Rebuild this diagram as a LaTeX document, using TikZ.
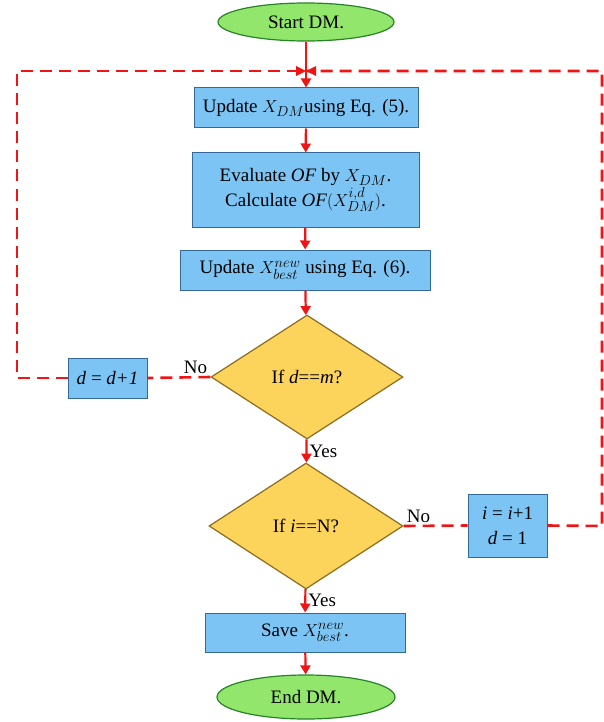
\documentclass[tikz,border=0pt]{standalone}
\usepackage{fontspec}
\setmainfont{Liberation Serif}
\usetikzlibrary{shapes.geometric,arrows.meta}

\definecolor{boxblue}{RGB}{124,196,244}
\definecolor{boxedge}{RGB}{52,104,150}
\definecolor{termgreen}{RGB}{146,230,108}
\definecolor{termedge}{RGB}{40,130,40}
\definecolor{askgold}{RGB}{252,212,92}
\definecolor{askedge}{RGB}{140,108,30}
\definecolor{flowred}{RGB}{240,20,20}

\begin{document}
\begin{tikzpicture}[x=1pt,y=-1pt,
  every node/.style={font=\fontsize{19}{25}\selectfont},
  term/.style={ellipse, draw=termedge, fill=termgreen, line width=1.2pt, inner sep=0pt},
  box/.style={rectangle, draw=boxedge, fill=boxblue, line width=1pt, inner sep=0pt, align=center},
  ask/.style={diamond, draw=askedge, fill=askgold, line width=1.2pt, inner sep=0pt},
  flow/.style={draw=flowred, line width=2.2pt, -{Triangle[length=9pt,width=10pt]}},
  back/.style={draw=flowred, line width=2.6pt, dash pattern=on 12pt off 7pt},
  tag/.style={inner sep=2pt}]
\useasboundingbox (0,0) rectangle (603,722);

\node[term, minimum width=176, minimum height=38] (start) at (306,22) {Start DM.};
\node[box, minimum width=224, minimum height=40] (upd) at (306,108) {Update $X_{DM}$using Eq. (5).};
\node[box, minimum width=227, minimum height=74] (eval) at (305.5,190)
  {Evaluate $\mathit{OF}$ by $X_{DM}$.\\Calculate $\mathit{OF}(X_{DM}^{i,d})$.};
\node[box, minimum width=250, minimum height=40] (best) at (305,270) {Update $X_{best}^{new}$ using Eq. (6).};
\node[ask, minimum width=192, minimum height=124] (askd) at (307,377) {If \textit{d}==\textit{m}?};
\node[box, minimum width=79, minimum height=40] (incd) at (107.5,378) {\textit{d} = \textit{d+1}};
\node[ask, minimum width=194, minimum height=126] (aski) at (306,526) {If \textit{i}==N?};
\node[box, minimum width=79, minimum height=63] (inci) at (507.5,525.5) {\textit{i} = \textit{i}+1\\\textit{d} = 1};
\node[box, minimum width=200, minimum height=39] (save) at (305,632.5) {Save $X_{best}^{new}$.};
\node[term, minimum width=178, minimum height=44] (end) at (306,697) {End DM.};

\coordinate (join) at (306,71);
\coordinate (tl) at (17,71);
\coordinate (bl) at (17,378);
\coordinate (tr) at (602,71);
\coordinate (br) at (602,526);

% main line
\draw[flow] (start) -- (upd);
\draw[flow] (upd) -- (eval);
\draw[flow] (eval) -- (best);
\draw[flow] (best) -- (askd);
\draw[flow] (askd) -- (aski) node[midway, right, tag] {Yes};
\draw[flow] (aski) -- (save) node[midway, right, tag] {Yes};
\draw[flow] (save) -- (end);

% loops back
\draw[back] (askd.west) -- (incd.east) node[pos=0, anchor=south east, tag] {No};
\draw[back] (incd.west) -- (bl) -- (tl) -- (join);
\draw[back] (aski.east) -- (inci.west) node[pos=0, anchor=south west, tag] {No};
\draw[back] (inci.east) -- (br) -- (tr) -- (join);
\fill[flowred] (join) -- ++(-10,-5) -- ++(0,10) -- cycle;
\fill[flowred] (join) -- ++(10,-5) -- ++(0,10) -- cycle;
\end{tikzpicture}
\end{document}
